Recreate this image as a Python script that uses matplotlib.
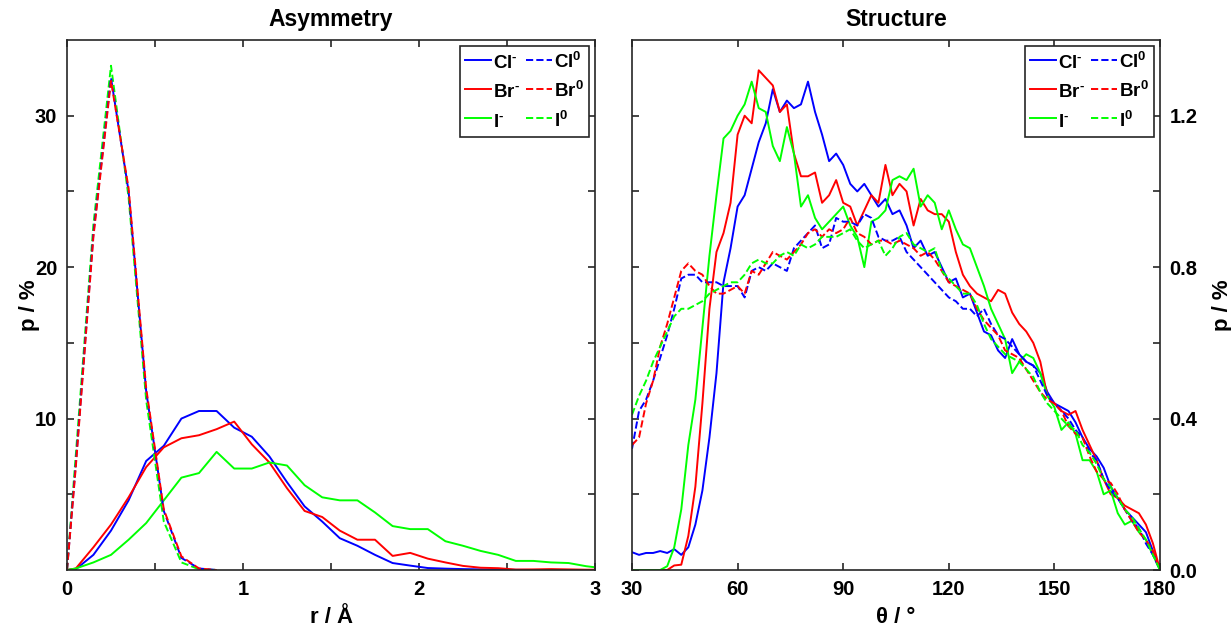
import matplotlib
matplotlib.use("Agg")
import matplotlib.pyplot as plt
from matplotlib.lines import Line2D
from matplotlib.ticker import MultipleLocator, FixedLocator

plt.rcParams['font.family'] = ['Liberation Sans', 'DejaVu Sans']
plt.rcParams['font.weight'] = 'bold'
plt.rcParams['mathtext.fontset'] = 'custom'
plt.rcParams['mathtext.rm'] = 'Liberation Sans:bold'
plt.rcParams['mathtext.bf'] = 'Liberation Sans:bold'
plt.rcParams['mathtext.default'] = 'bf'

# ---- Asymmetry: r / Angstrom ----
r = [0.0, 0.05, 0.15, 0.25, 0.35, 0.45, 0.55, 0.65, 0.75, 0.85, 0.95,
     1.05, 1.15, 1.25, 1.35, 1.45, 1.55, 1.65, 1.75, 1.85, 1.95,
     2.05, 2.15, 2.25, 2.35, 2.45, 2.55, 2.65, 2.75, 2.85, 2.95, 3.0]
asym_cl_anion = [0, 0.05, 1.0, 2.6, 4.6, 7.2, 8.2, 10.0, 10.5, 10.5, 9.4,
                 8.8, 7.5, 5.8, 4.2, 3.2, 2.1, 1.6, 1.0, 0.46, 0.29,
                 0.13, 0.09, 0.06, 0.04, 0.02, 0.01, 0.0, 0.0, 0.0, 0.0, 0.0]
asym_br_anion = [0, 0.1, 1.5, 3.0, 4.8, 6.8, 8.1, 8.7, 8.9, 9.3, 9.8,
                 8.3, 7.1, 5.4, 3.9, 3.5, 2.6, 2.0, 2.0, 0.93, 1.13,
                 0.75, 0.5, 0.27, 0.15, 0.12, 0.03, 0.04, 0.06, 0.04, 0.02, 0.02]
asym_i_anion = [0, 0.1, 0.5, 1.0, 2.0, 3.1, 4.6, 6.1, 6.4, 7.8, 6.7,
                6.7, 7.1, 6.9, 5.6, 4.8, 4.6, 4.6, 3.8, 2.9, 2.7,
                2.7, 1.9, 1.6, 1.26, 1.0, 0.6, 0.6, 0.5, 0.46, 0.25, 0.18]

r_neutral = [0.0, 0.05, 0.15, 0.25, 0.35, 0.45, 0.55, 0.65, 0.75, 0.85]
asym_cl_neutral = [0, 7.0, 22.2, 32.5, 25.0, 11.8, 3.9, 0.8, 0.1, 0.0]
asym_br_neutral = [0, 6.8, 22.0, 32.3, 25.2, 12.0, 4.0, 0.9, 0.1, 0.0]
asym_i_neutral = [0, 7.6, 22.8, 33.3, 24.6, 11.2, 3.2, 0.5, 0.05, 0.0]

# ---- Structure: theta / deg ----
theta = list(range(30, 181, 2))
struct_cl_anion = [0.047, 0.04, 0.045, 0.045, 0.05, 0.045, 0.055, 0.04, 0.06, 0.12,
                   0.21, 0.35, 0.52, 0.76, 0.85, 0.96, 0.99, 1.06, 1.13, 1.18,
                   1.27, 1.21, 1.24, 1.22, 1.23, 1.29, 1.21, 1.15, 1.08, 1.10,
                   1.07, 1.02, 1.00, 1.02, 0.99, 0.96, 0.98, 0.94, 0.95, 0.91,
                   0.85, 0.87, 0.83, 0.84, 0.80, 0.76, 0.77, 0.72, 0.73, 0.68,
                   0.63, 0.62, 0.58, 0.56, 0.61, 0.57, 0.55, 0.54, 0.52, 0.47,
                   0.44, 0.43, 0.42, 0.39, 0.35, 0.32, 0.30, 0.27, 0.22, 0.19,
                   0.16, 0.14, 0.12, 0.10, 0.05, 0.0]
struct_br_anion = [0.0, 0.0, 0.0, 0.0, 0.0, 0.0, 0.012, 0.014, 0.09, 0.22,
                   0.44, 0.69, 0.84, 0.89, 0.97, 1.15, 1.20, 1.18, 1.32, 1.30,
                   1.28, 1.21, 1.23, 1.10, 1.04, 1.04, 1.05, 0.97, 0.99, 1.03,
                   0.97, 0.96, 0.91, 0.95, 0.99, 0.97, 1.07, 0.99, 1.02, 1.00,
                   0.91, 0.98, 0.95, 0.94, 0.94, 0.92, 0.84, 0.78, 0.75, 0.73,
                   0.72, 0.71, 0.74, 0.73, 0.68, 0.65, 0.63, 0.60, 0.55, 0.46,
                   0.44, 0.42, 0.41, 0.42, 0.37, 0.33, 0.29, 0.24, 0.20, 0.19,
                   0.17, 0.16, 0.15, 0.12, 0.07, 0.0]
struct_i_anion = [0.0, 0.0, 0.0, 0.0, 0.0, 0.01, 0.06, 0.16, 0.33, 0.45,
                  0.64, 0.83, 0.99, 1.14, 1.16, 1.20, 1.23, 1.29, 1.22, 1.21,
                  1.12, 1.08, 1.17, 1.10, 0.96, 0.99, 0.93, 0.90, 0.92, 0.94,
                  0.96, 0.91, 0.88, 0.80, 0.92, 0.93, 0.95, 1.03, 1.04, 1.03,
                  1.06, 0.96, 0.99, 0.97, 0.90, 0.95, 0.90, 0.86, 0.85, 0.80,
                  0.75, 0.69, 0.65, 0.61, 0.52, 0.55, 0.57, 0.56, 0.52, 0.46,
                  0.43, 0.37, 0.39, 0.36, 0.29, 0.29, 0.26, 0.20, 0.21, 0.15,
                  0.12, 0.13, 0.10, 0.08, 0.04, 0.0]
struct_cl_neutral = [0.32, 0.42, 0.45, 0.50, 0.56, 0.62, 0.69, 0.77, 0.78, 0.78,
                     0.76, 0.76, 0.76, 0.75, 0.75, 0.75, 0.72, 0.79, 0.80, 0.79,
                     0.81, 0.80, 0.79, 0.85, 0.87, 0.89, 0.91, 0.85, 0.86, 0.93,
                     0.92, 0.92, 0.91, 0.94, 0.93, 0.88, 0.87, 0.87, 0.88, 0.84,
                     0.82, 0.80, 0.78, 0.76, 0.74, 0.72, 0.71, 0.69, 0.69, 0.67,
                     0.69, 0.65, 0.62, 0.61, 0.59, 0.57, 0.55, 0.54, 0.50, 0.46,
                     0.44, 0.42, 0.40, 0.37, 0.35, 0.31, 0.29, 0.24, 0.21, 0.19,
                     0.16, 0.13, 0.11, 0.07, 0.04, 0.0]
struct_br_neutral = [0.33, 0.35, 0.44, 0.50, 0.59, 0.65, 0.72, 0.79, 0.81, 0.79,
                     0.78, 0.75, 0.73, 0.73, 0.74, 0.75, 0.73, 0.79, 0.78, 0.81,
                     0.84, 0.83, 0.82, 0.84, 0.86, 0.89, 0.90, 0.88, 0.90, 0.89,
                     0.90, 0.93, 0.89, 0.88, 0.86, 0.87, 0.87, 0.86, 0.87, 0.86,
                     0.85, 0.83, 0.84, 0.82, 0.79, 0.76, 0.75, 0.74, 0.73, 0.69,
                     0.66, 0.64, 0.62, 0.58, 0.57, 0.56, 0.53, 0.50, 0.47, 0.45,
                     0.44, 0.42, 0.38, 0.36, 0.35, 0.30, 0.26, 0.24, 0.23, 0.20,
                     0.16, 0.13, 0.10, 0.08, 0.05, 0.0]
struct_i_neutral = [0.41, 0.46, 0.50, 0.55, 0.59, 0.63, 0.67, 0.69, 0.69, 0.70,
                    0.71, 0.73, 0.74, 0.75, 0.76, 0.76, 0.78, 0.81, 0.82, 0.81,
                    0.81, 0.83, 0.84, 0.83, 0.86, 0.85, 0.86, 0.88, 0.88, 0.88,
                    0.89, 0.90, 0.87, 0.85, 0.86, 0.87, 0.83, 0.85, 0.88, 0.89,
                    0.86, 0.85, 0.84, 0.85, 0.79, 0.77, 0.75, 0.73, 0.73, 0.70,
                    0.65, 0.61, 0.59, 0.57, 0.56, 0.55, 0.53, 0.51, 0.47, 0.44,
                    0.42, 0.40, 0.38, 0.37, 0.33, 0.31, 0.28, 0.24, 0.22, 0.19,
                    0.16, 0.14, 0.11, 0.08, 0.04, 0.0]

colors = {"Cl": "#0000ff", "Br": "#ff0000", "I": "#00ff00"}
LW = 1.4
AX_COLOR = "#262626"


def style_axes(ax):
    for sp in ax.spines.values():
        sp.set_color(AX_COLOR)
        sp.set_linewidth(1.2)
    ax.tick_params(which="both", direction="in", top=True, right=True,
                   length=5, width=1.2, color=AX_COLOR, labelsize=14.5, pad=7)


def add_legend(ax):
    handles = [
        Line2D([], [], color=colors["Cl"], lw=LW, label=r"Cl$^{\text{-}}$"),
        Line2D([], [], color=colors["Br"], lw=LW, label=r"Br$^{\text{-}}$"),
        Line2D([], [], color=colors["I"], lw=LW, label=r"I$^{\text{-}}$"),
        Line2D([], [], color=colors["Cl"], lw=LW, ls="--", label=r"Cl$^0$"),
        Line2D([], [], color=colors["Br"], lw=LW, ls="--", label=r"Br$^0$"),
        Line2D([], [], color=colors["I"], lw=LW, ls="--", label=r"I$^0$"),
    ]
    # tall handle boxes keep every row the same height
    leg = ax.legend(handles=handles, ncol=2, loc="upper right", fontsize=13.5,
                    fancybox=False, framealpha=1, edgecolor=AX_COLOR,
                    handlelength=1.4, handleheight=1.4, handletextpad=0.1,
                    columnspacing=0.3, labelspacing=0.4, borderpad=0.3,
                    borderaxespad=0.3)
    leg.get_frame().set_linewidth(1.2)


fig = plt.figure(figsize=(12.31, 6.31), dpi=100)
ax1 = fig.add_axes([67 / 1231, 61 / 631, 528 / 1231, 530 / 631])
ax2 = fig.add_axes([632 / 1231, 61 / 631, 528 / 1231, 530 / 631])

# Asymmetry
ax1.plot(r, asym_cl_anion, color=colors["Cl"], lw=LW)
ax1.plot(r, asym_br_anion, color=colors["Br"], lw=LW)
ax1.plot(r, asym_i_anion, color=colors["I"], lw=LW)
ax1.plot(r_neutral, asym_i_neutral, color=colors["I"], lw=LW, ls="--")
ax1.plot(r_neutral, asym_cl_neutral, color=colors["Cl"], lw=LW, ls="--")
ax1.plot(r_neutral, asym_br_neutral, color=colors["Br"], lw=LW, ls="--")
ax1.set_xlim(0, 3)
ax1.set_ylim(0, 35)
ax1.xaxis.set_major_locator(FixedLocator([0, 1, 2, 3]))
ax1.xaxis.set_minor_locator(FixedLocator([0.5, 1.5, 2.5]))
ax1.yaxis.set_major_locator(FixedLocator([10, 20, 30]))
ax1.yaxis.set_minor_locator(FixedLocator([5, 15, 25]))
style_axes(ax1)
ax1.set_title("Asymmetry", fontsize=16.5, fontweight="bold", pad=10)
ax1.set_xlabel("r / Å", fontsize=16, fontweight="bold", labelpad=6)
ax1.set_ylabel("p / %", fontsize=16, fontweight="bold")
ax1.yaxis.set_label_coords(-0.052, 0.5)
add_legend(ax1)

# Structure
ax2.plot(theta, struct_cl_anion, color=colors["Cl"], lw=LW)
ax2.plot(theta, struct_br_anion, color=colors["Br"], lw=LW)
ax2.plot(theta, struct_i_anion, color=colors["I"], lw=LW)
ax2.plot(theta, struct_cl_neutral, color=colors["Cl"], lw=LW, ls="--")
ax2.plot(theta, struct_br_neutral, color=colors["Br"], lw=LW, ls="--")
ax2.plot(theta, struct_i_neutral, color=colors["I"], lw=LW, ls="--")
ax2.set_xlim(30, 180)
ax2.set_ylim(0, 1.4)
ax2.xaxis.set_major_locator(MultipleLocator(30))
ax2.yaxis.set_major_locator(FixedLocator([0.0, 0.4, 0.8, 1.2]))
ax2.yaxis.set_minor_locator(FixedLocator([0.2, 0.6, 1.0]))
ax2.yaxis.set_major_formatter(lambda v, pos: f"{v:.1f}")
style_axes(ax2)
ax2.tick_params(axis="y", labelleft=False, labelright=True)
ax2.yaxis.set_label_position("right")
ax2.set_title("Structure", fontsize=16.5, fontweight="bold", pad=10)
ax2.set_xlabel("θ / °", fontsize=16, fontweight="bold", labelpad=6)
ax2.set_ylabel("p / %", fontsize=16, fontweight="bold", labelpad=10)
add_legend(ax2)

fig.savefig("out.png", dpi=100)
